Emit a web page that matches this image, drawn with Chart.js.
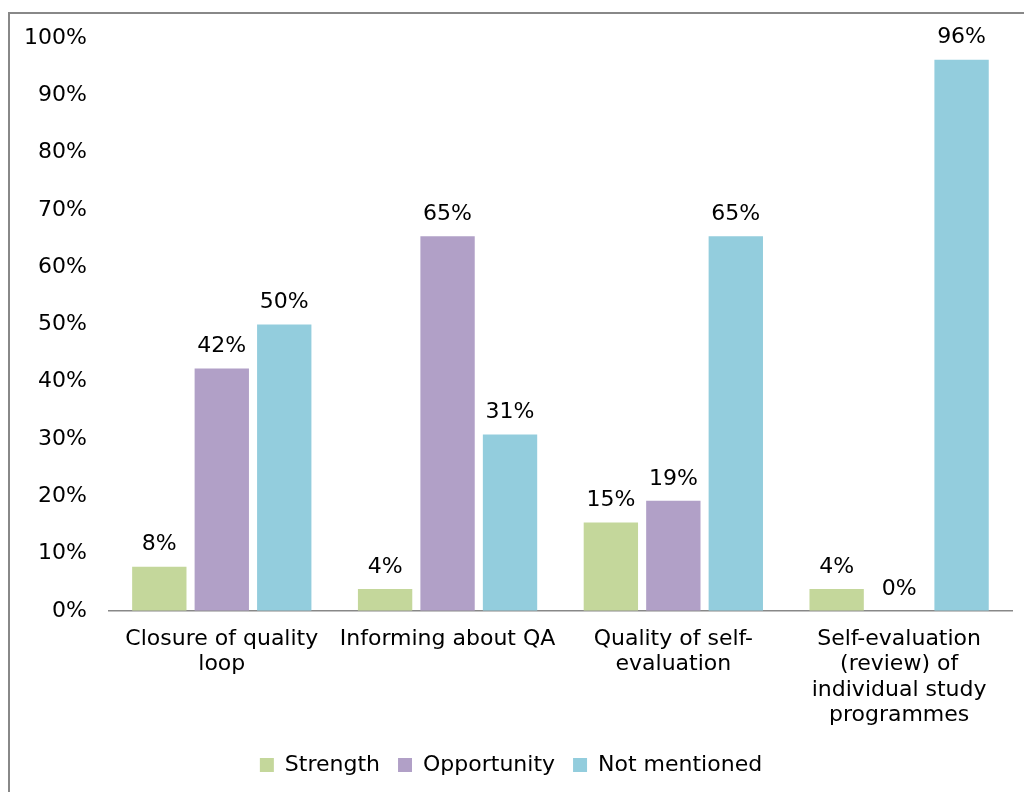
<!DOCTYPE html>
<html>
<head>
<meta charset="utf-8">
<script src="https://cdn.jsdelivr.net/npm/chart.js@4"></script>
<style>
  body { margin: 0; background: #fff; overflow: hidden; }
  #frame { position: absolute; left: 8px; top: 12px; width: 1100px; height: 900px; border: 2px solid #888; }
  #chart { position: absolute; left: 0; top: 0; }
</style>
</head>
<body>
<div id="frame"></div>
<canvas id="chart" width="1024" height="792"></canvas>
<script>
const categories = [
    ['Closure of quality', 'loop'],
    ['Informing about QA'],
    ['Quality of self-', 'evaluation'],
    ['Self-evaluation', '(review) of', 'individual study', 'programmes']
]
const strength = [7.7, 3.8, 15.4, 3.8]
const opportunity = [42.3, 65.4, 19.2, 0]
const notMentioned = [50, 30.8, 65.4, 96.2]
const yTicks = [0, 10, 20, 30, 40, 50, 60, 70, 80, 90, 100]

const font = 'DejaVu Sans, Verdana, sans-serif'

// draws the % label over each bar
const barLabels = {
    id: 'barLabels',
    afterDatasetsDraw(chart) {
        const ctx = chart.ctx
        ctx.save()
        ctx.font = '22px ' + font
        ctx.fillStyle = '#000'
        ctx.textAlign = 'center'
        ctx.textBaseline = 'bottom'
        chart.data.datasets.forEach((ds, i) => {
            chart.getDatasetMeta(i).data.forEach((bar, j) => {
                ctx.fillText(Math.round(ds.data[j]) + '%', bar.x, bar.y - 11)
            })
        })
        ctx.restore()
    }
}

const ctx = document.getElementById('chart').getContext('2d')
const myChart = new Chart(ctx, {
    type: 'bar',
    data: {
        labels: categories,
        datasets: [
            { label: 'Strength', data: strength, backgroundColor: '#c4d79b' },
            { label: 'Opportunity', data: opportunity, backgroundColor: '#b1a0c7' },
            { label: 'Not mentioned', data: notMentioned, backgroundColor: '#93cddd' }
        ]
    },
    options: {
        responsive: false,
        animation: false,
        categoryPercentage: 0.83,
        barPercentage: 0.87,
        layout: { padding: { left: 10, right: 12, top: 38, bottom: 6 } },
        plugins: {
            legend: {
                position: 'bottom',
                labels: {
                    boxWidth: 14,
                    boxHeight: 14,
                    padding: 18,
                    color: '#000',
                    font: { family: font, size: 22 }
                }
            },
            tooltip: { enabled: false }
        },
        scales: {
            x: {
                grid: { display: false },
                border: { color: '#888', width: 1.5 },
                ticks: {
                    color: '#000',
                    maxRotation: 0,
                    padding: 8,
                    font: { family: font, size: 22, lineHeight: 1.15 }
                }
            },
            y: {
                min: 0,
                max: 100,
                grid: { display: false },
                border: { display: false },
                afterBuildTicks: (axis) => { axis.ticks = yTicks.map(v => ({ value: v })) },
                ticks: {
                    color: '#000',
                    padding: 14,
                    callback: (v) => v + '%',
                    font: { family: font, size: 22 }
                }
            }
        }
    },
    plugins: [barLabels]
})
</script>
</body>
</html>
